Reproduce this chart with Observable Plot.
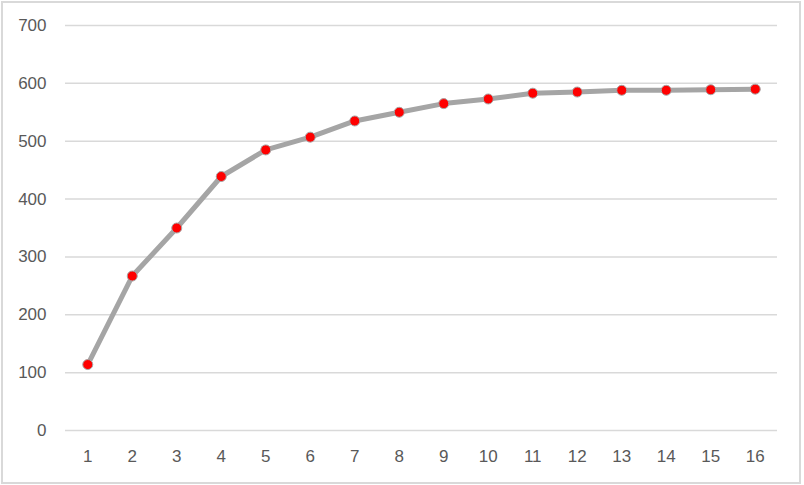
<!DOCTYPE html>
<html><head><meta charset="utf-8">
<script src="https://cdn.jsdelivr.net/npm/d3@7"></script>
<script src="https://cdn.jsdelivr.net/npm/@observablehq/plot@0.6"></script>
<style>
body{margin:0;background:#fff;}
#wrap{position:relative;width:804px;height:485px;}
#border{position:absolute;left:1px;top:1px;width:796px;height:479px;border:2px solid #d9d9d9;pointer-events:none;}
#wrap svg text{font-family:'Liberation Sans',Arial,sans-serif !important;font-size:17px !important;fill:#595959;}
</style>
</head><body>
<div id="wrap"><div id="border"></div></div>
<script>
const categories = ["1","2","3","4","5","6","7","8","9","10","11","12","13","14","15","16"];
const values = [114, 267, 350, 439, 485, 507, 535, 550, 565, 573, 583, 585, 588, 588, 589, 590];
const yTicks = [0, 100, 200, 300, 400, 500, 600, 700];

const data = categories.map((c, i) => ({cat: c, v: values[i]}));

const chart = Plot.plot({
  width: 804,
  height: 485,
  marginLeft: 65,
  marginRight: 27,
  marginTop: 25,
  marginBottom: 55,
  style: {fontFamily: "'Liberation Sans', Arial, sans-serif", fontSize: "17px", color: "#595959", background: "transparent"},
  x: {type: "point", domain: categories, padding: 0.5, round: false},
  y: {domain: [0, 700]},
  marks: [
    Plot.ruleY(yTicks, {stroke: "#d9d9d9", strokeWidth: 1.5}),
    Plot.axisX({label: null, tickSize: 0, tickPadding: 19, fontSize: 17, fill: "#595959"}),
    Plot.axisY(yTicks, {label: null, tickSize: 0, tickPadding: 19, fontSize: 17, fill: "#595959"}),
    Plot.line(data, {x: "cat", y: "v", stroke: "#a5a5a5", strokeWidth: 5, strokeLinejoin: "round"}),
    Plot.dot(data, {x: "cat", y: "v", r: 5, fill: "#ff0000", stroke: "#a5a5a5", strokeWidth: 1})
  ]
});
document.getElementById("wrap").prepend(chart);
</script>
</body></html>
